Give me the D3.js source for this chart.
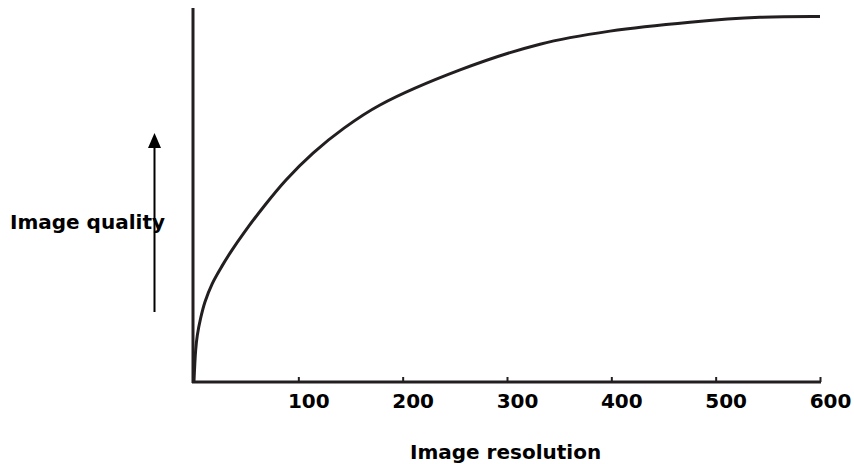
<!DOCTYPE html>
<meta charset="utf-8">
<style>
    body {
        margin: 0;
        background: #fff;
    }
    text {
        font-family: "DejaVu Sans", Verdana, sans-serif;
        font-weight: bold;
        font-size: 20px;
        fill: #000;
    }
</style>
<body>
<script src="https://cdn.jsdelivr.net/npm/d3@7"></script>
<script>

// values (resolution, quality in % of axis height)
var resolution = [0, 1.6, 3.2, 6.4, 10.5, 17.3, 26.8, 36.4, 47, 68.1, 88.2, 114.1, 143.8, 178.3, 255, 331.6, 398.7, 475.4, 542.5, 600];
var quality    = [0, 8.3, 12.3, 16.9, 21.2, 26, 30.8, 35.1, 39.4, 47.2, 53.9, 61.1, 67.8, 74, 83.4, 90.3, 93.8, 96.2, 97.5, 97.7];
var tickValues = [100, 200, 300, 400, 500, 600];
var xTitle = "Image resolution";
var yTitle = "Image quality";

var width = 854,
    height = 464;

var svg = d3.select("body").append("svg")
    .attr("width", width)
    .attr("height", height);

var x = d3.scaleLinear()
    .domain([0, 600])
    .range([194, 820]);

var y = d3.scaleLinear()
    .domain([0, 100])
    .range([381, 8]);

var ink = "#231f20";

// axis lines
svg.append("line")
    .attr("x1", 193).attr("x2", 193)
    .attr("y1", y(100)).attr("y2", 383)
    .style("stroke", ink)
    .style("stroke-width", 3);

svg.append("line")
    .attr("x1", 192).attr("x2", x(600) + 1)
    .attr("y1", 382).attr("y2", 382)
    .style("stroke", ink)
    .style("stroke-width", 3);

var xAxis = d3.axisBottom(x)
    .tickValues(tickValues)
    .tickSizeInner(-5)
    .tickSizeOuter(0)
    .tickPadding(12);

var gx = svg.append("g")
    .attr("transform", "translate(0,382)")
    .call(xAxis);

gx.select(".domain").remove();
gx.selectAll(".tick line")
    .style("stroke", ink)
    .style("stroke-width", 2);
gx.selectAll(".tick text")
    .attr("dx", 10)
    .style("fill", "#000");

// the curve
var line = d3.line()
    .x(function(d) { return x(d[0]); })
    .y(function(d) { return y(d[1]); })
    .curve(d3.curveCatmullRom.alpha(0.5));

svg.append("path")
    .datum(d3.zip(resolution, quality))
    .attr("d", line)
    .style("fill", "none")
    .style("stroke", ink)
    .style("stroke-width", 3);

// titles
svg.append("text")
    .attr("x", 410)
    .attr("y", 459)
    .text(xTitle);

svg.append("text")
    .attr("x", 10)
    .attr("y", 229)
    .text(yTitle);

// up arrow next to the y title
svg.append("line")
    .attr("x1", 154.5).attr("x2", 154.5)
    .attr("y1", 312).attr("y2", 146)
    .style("stroke", "#000")
    .style("stroke-width", 2);

svg.append("path")
    .attr("d", "M154.5,133 L161,148 L148,148 Z")
    .style("fill", "#000");

</script>
</body>
